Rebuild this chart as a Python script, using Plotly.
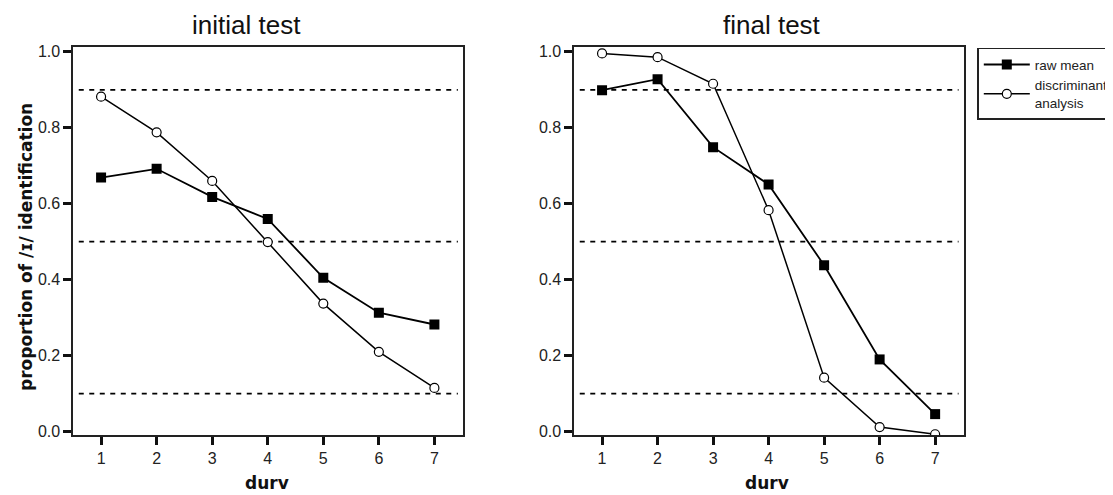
import plotly.graph_objects as go

# ---- data ----
durv = [1, 2, 3, 4, 5, 6, 7]
initial_raw_mean = [0.669, 0.692, 0.618, 0.560, 0.405, 0.313, 0.282]
initial_discriminant = [0.882, 0.788, 0.660, 0.499, 0.337, 0.210, 0.115]
final_raw_mean = [0.899, 0.928, 0.749, 0.651, 0.438, 0.190, 0.046]
final_discriminant = [0.996, 0.986, 0.916, 0.583, 0.142, 0.012, -0.007]
ref_levels = [0.1, 0.5, 0.9]
y_ticks = [0.0, 0.2, 0.4, 0.6, 0.8, 1.0]
y_tick_labels = ["0.0", "0.2", "0.4", "0.6", "0.8", "1.0"]
panel_titles = ["initial test", "final test"]
x_title = "durv"
y_title = "proportion of /\u026a/ identification"
series_names = ["raw mean", "discriminant<br>analysis"]

FONT = "Liberation Sans, Arial, sans-serif"
BOLD_FONT = "DejaVu Sans, Liberation Sans, sans-serif"

# page is offset by the default 8px body margin
OFF = 8
W, H = 1113, 495 - OFF


def px(xp):
    return (xp - OFF) / W


def py(yp):
    return (H - (yp - OFF)) / H


fig = go.Figure()

panels = [
    ("x", "y", initial_raw_mean, initial_discriminant, True),
    ("x2", "y2", final_raw_mean, final_discriminant, False),
]
for xa, ya, raw, disc, show in panels:
    fig.add_trace(go.Scatter(
        x=durv, y=raw, xaxis=xa, yaxis=ya, mode="lines+markers",
        name=series_names[0], legendgroup="raw", showlegend=show,
        line=dict(color="black", width=1.8),
        marker=dict(symbol="square", size=10, color="black",
                    line=dict(color="black", width=0)),
    ))
    fig.add_trace(go.Scatter(
        x=durv, y=disc, xaxis=xa, yaxis=ya, mode="lines+markers",
        name=series_names[1], legendgroup="disc", showlegend=show,
        line=dict(color="black", width=1.5),
        marker=dict(symbol="circle", size=9, color="white",
                    line=dict(color="black", width=1.2)),
    ))

# dashed reference lines
for xr, yr in [("x", "y"), ("x2", "y2")]:
    for lvl in ref_levels:
        fig.add_shape(type="line", xref=f"{xr} domain", yref=yr,
                      x0=0.014, x1=0.986, y0=lvl, y1=lvl,
                      line=dict(color="black", width=1.8, dash="5px,5.5px"),
                      layer="below")

xdom1 = [px(73.3), px(463.3)]
xdom2 = [px(574.3), px(964.0)]
ydom = [py(435.0), py(47.3)]

axis_common = dict(
    showline=True, mirror=True, linewidth=1.8, linecolor="#222",
    ticks="outside", ticklen=8, tickwidth=3, tickcolor="#111",
    showgrid=False, zeroline=False, automargin=False,
    tickfont=dict(family=FONT, size=16, color="#222"),
)

fig.update_layout(
    width=W, height=H,
    margin=dict(l=0, r=0, t=0, b=0),
    plot_bgcolor="white", paper_bgcolor="white",
    font=dict(family=FONT, color="#222"),
    xaxis=dict(domain=xdom1, anchor="y", range=[0.5, 7.52], tickvals=durv, **axis_common),
    yaxis=dict(domain=ydom, anchor="x", range=[-0.009, 1.012], tickvals=y_ticks,
               ticktext=y_tick_labels, **axis_common),
    xaxis2=dict(domain=xdom2, anchor="y2", range=[0.5, 7.52], tickvals=durv, **axis_common),
    yaxis2=dict(domain=ydom, anchor="x2", range=[-0.009, 1.012], tickvals=y_ticks,
                ticktext=y_tick_labels, **axis_common),
    legend=dict(
        x=px(977.3), y=py(47.7), xanchor="left", yanchor="top",
        bordercolor="#222", borderwidth=1.5, bgcolor="white",
        font=dict(family=FONT, size=13.5, color="#222"),
        tracegroupgap=0, itemwidth=46,
    ),
)

ann = []
for txt, cx in [(panel_titles[0], 246), (panel_titles[1], 772)]:
    ann.append(dict(text=txt, x=px(cx), y=py(25), xref="paper", yref="paper",
                    xanchor="center", yanchor="middle", showarrow=False,
                    font=dict(family=FONT, size=26, color="#111")))
for cx in [267, 767]:
    ann.append(dict(text=f"<b>{x_title}</b>", x=px(cx), y=0, xref="paper", yref="paper",
                    xanchor="center", yanchor="bottom", showarrow=False,
                    font=dict(family=BOLD_FONT, size=17, color="#111")))
ann.append(dict(text=f"<b>{y_title}</b>", x=px(26), y=py(247), xref="paper",
                yref="paper", xanchor="center", yanchor="middle", showarrow=False,
                textangle=-90, font=dict(family=BOLD_FONT, size=17, color="#111")))
fig.update_layout(annotations=ann)

fig.write_html("out.html")
